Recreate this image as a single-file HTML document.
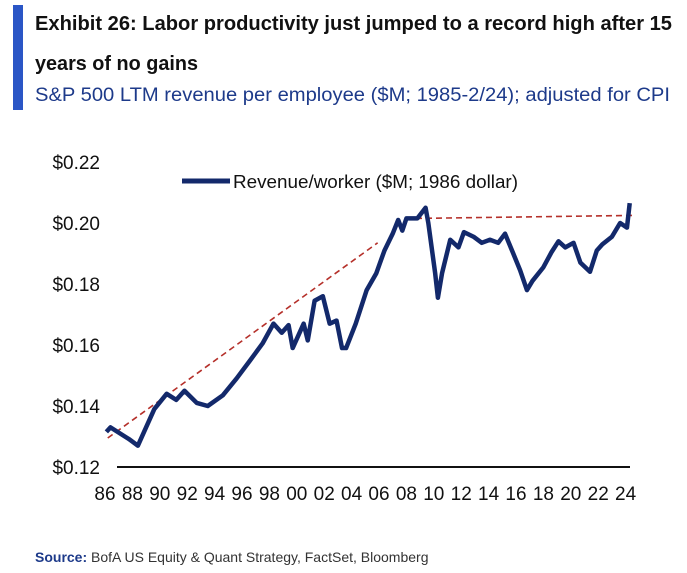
<!DOCTYPE html>
<html><head><meta charset="utf-8"><style>
html,body{margin:0;padding:0;background:#fff;}
svg{display:block;font-family:"Liberation Sans",sans-serif;}
</style></head><body>
<svg id="chart" width="687" height="573" viewBox="0 0 687 573">
<rect x="13" y="5" width="10" height="105" fill="#2a56c6"/>
<text x="35" y="30" font-size="20" font-weight="bold" fill="#111" textLength="637" lengthAdjust="spacingAndGlyphs">Exhibit 26: Labor productivity just jumped to a record high after 15</text>
<text x="35" y="70" font-size="20" font-weight="bold" fill="#111" textLength="163" lengthAdjust="spacingAndGlyphs">years of no gains</text>
<text x="35" y="101" font-size="19" fill="#1d3a8a" textLength="635" lengthAdjust="spacingAndGlyphs">S&amp;P 500 LTM revenue per employee ($M; 1985-2/24); adjusted for CPI</text>
<g id="yaxis"></g>
<g id="xaxis"></g>
<line x1="117" y1="467" x2="630" y2="467" stroke="#111" stroke-width="2"/>
<g id="trends"></g>
<g id="series"></g>
<g>
<line x1="182" y1="181" x2="230" y2="181" stroke="#13296b" stroke-width="5"/>
<text x="233" y="188" font-size="18" fill="#111" textLength="285" lengthAdjust="spacingAndGlyphs">Revenue/worker ($M; 1986 dollar)</text>
</g>
<text x="35" y="562" font-size="14" fill="#333"><tspan font-weight="bold" fill="#1d3a8a">Source:</tspan> BofA US Equity &amp; Quant Strategy, FactSet, Bloomberg</text>
</svg>
<script>
const yTicks=[0.12,0.14,0.16,0.18,0.20,0.22];
const yTickLabels=["$0.12","$0.14","$0.16","$0.18","$0.20","$0.22"];
const xTicks=[1986,1988,1990,1992,1994,1996,1998,2000,2002,2004,2006,2008,2010,2012,2014,2016,2018,2020,2022,2024];
const xTickLabels=["86","88","90","92","94","96","98","00","02","04","06","08","10","12","14","16","18","20","22","24"];
const years=[1986.1,1986.4,1987.8,1988.4,1989.0,1989.6,1990.5,1991.2,1991.8,1992.7,1993.5,1994.6,1995.6,1996.6,1997.5,1998.3,1998.9,1999.4,1999.7,2000.5,2000.8,2001.3,2001.9,2002.4,2002.9,2003.3,2003.6,2004.3,2005.1,2005.8,2006.4,2007.0,2007.4,2007.7,2008.0,2008.8,2009.4,2009.6,2010.1,2010.3,2010.6,2011.2,2011.8,2012.2,2012.9,2013.5,2014.1,2014.7,2015.2,2015.8,2016.3,2016.8,2017.2,2018.0,2018.6,2019.1,2019.6,2020.2,2020.7,2021.4,2021.9,2022.3,2023.0,2023.6,2024.1,2024.3];
const revenue=[0.1315,0.133,0.129,0.127,0.133,0.139,0.144,0.142,0.145,0.141,0.140,0.1435,0.149,0.155,0.1605,0.167,0.164,0.1665,0.159,0.167,0.1615,0.1745,0.176,0.167,0.168,0.159,0.159,0.167,0.178,0.1835,0.191,0.1965,0.201,0.1975,0.2015,0.2015,0.205,0.200,0.1835,0.1755,0.1835,0.1945,0.192,0.197,0.1955,0.1935,0.1945,0.1935,0.1965,0.190,0.1845,0.178,0.181,0.1855,0.1905,0.194,0.192,0.1935,0.187,0.184,0.191,0.193,0.1955,0.200,0.1985,0.2065];
const trendYears=[[1986.2,2005.9],[2008.7,2024.7]];
const trendValues=[[0.1295,0.1935],[0.2015,0.2025]];

const NS="http://www.w3.org/2000/svg";
const X=yr=>105+(yr-1986)*13.7;
const Y=v=>467-(v-0.12)*3050;
function mk(tag,attrs,parent){const e=document.createElementNS(NS,tag);for(const k in attrs)e.setAttribute(k,attrs[k]);parent.appendChild(e);return e;}
const ya=document.getElementById('yaxis');
yTicks.forEach((t,i)=>{const e=mk('text',{x:100,y:Y(t)+7,'font-size':19,'text-anchor':'end',fill:'#111'},ya);


e.textContent=yTickLabels[i];});
const xa=document.getElementById('xaxis');
xTicks.forEach((t,i)=>{const e=mk('text',{x:X(t),y:500,'font-size':19,'text-anchor':'middle',fill:'#111'},xa);


e.textContent=xTickLabels[i];});
const tg=document.getElementById('trends');
trendYears.forEach((ys,i)=>{const l=mk('line',{x1:X(ys[0]),y1:Y(trendValues[i][0]),x2:X(ys[1]),y2:Y(trendValues[i][1]),stroke:'#b5302a','stroke-width':1.6,'stroke-dasharray':'6 4'},tg);

});
const sg=document.getElementById('series');
const p=mk('polyline',{points:years.map((y,i)=>X(y)+','+Y(revenue[i])).join(' '),fill:'none',stroke:'#13296b','stroke-width':4.5,'stroke-linejoin':'round'},sg);


</script>
</body></html>
